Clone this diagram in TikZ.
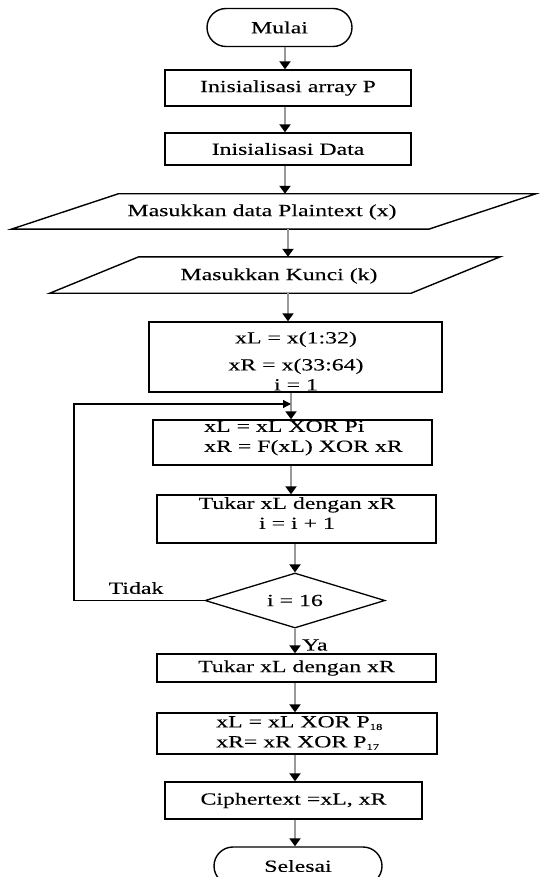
\documentclass[tikz,border=0pt]{standalone}
\usepackage{fontspec}
\setmainfont[FakeStretch=1.4,FakeBold=0.2]{Liberation Serif}
\usetikzlibrary{arrows.meta,shapes.geometric}

\tikzset{
  base/.style={font=\fontsize{17}{20}\selectfont, inner sep=0pt},
  proc/.style={base, draw=black, line width=1.4pt, rectangle},
  term/.style={base, draw=black, line width=1.4pt, rectangle, rounded corners=19pt,
               minimum height=38pt},
  dec/.style={base, draw=black, line width=1.3pt, diamond, aspect=3.2},
  txt/.style={base},
  flow/.style={draw=black!40, line width=2.8pt,
               -{Triangle[black, width=11pt, length=8pt]}},
  back/.style={draw=black, line width=1.2pt,
               -{Triangle[black, width=8pt, length=8pt]}},
}

\newcommand{\tinysub}[1]{\textsubscript{\fontsize{9}{10}\selectfont #1}}

\begin{document}
\begin{tikzpicture}[x=1pt, y=-1pt]
\useasboundingbox (0,0) rectangle (551,877);

% terminals and processes
\node[term, minimum width=145pt] (mulai) at (279.5,27.5) {Mulai};
\node[proc, minimum width=246pt, minimum height=36pt] (p1) at (288,88) {Inisialisasi array P};
\node[proc, minimum width=246pt, minimum height=32pt] (p2) at (288,149) {Inisialisasi Data};

% input parallelograms: frame node plus slanted outline
\node[base, minimum width=417pt, minimum height=35pt] (in1) at (273.5,211.5) {};
\draw[line width=1.4pt]
  ([xshift=-53.5pt]in1.south west) -- ([xshift=-53.5pt]in1.south east)
  -- ([xshift=53.5pt]in1.north east) -- ([xshift=53.5pt]in1.north west) -- cycle;
\node[txt] (in1t) at (262,212) {Masukkan data Plaintext (x)};

\node[base, minimum width=361pt, minimum height=36pt] (in2) at (275,275) {};
\draw[line width=1.4pt]
  ([xshift=-44.5pt]in2.south west) -- ([xshift=-44.5pt]in2.south east)
  -- ([xshift=44.5pt]in2.north east) -- ([xshift=44.5pt]in2.north west) -- cycle;
\node[txt] (in2t) at (279,276) {Masukkan Kunci (k)};

\node[proc, minimum width=293pt, minimum height=70pt] (b3) at (295.5,357) {};
\node[txt, align=center] (b3t) at (296,361) {xL = x(1:32)\\[7pt] xR = x(33:64)\\ i = 1};

\node[proc, minimum width=279pt, minimum height=45pt] (b4) at (292.5,442.5) {};
\node[txt, align=left, anchor=west] (b4t) at (204,438) {xL = xL XOR Pi\\ xR = F(xL) XOR xR};

\node[proc, minimum width=279pt, minimum height=48pt] (b5) at (296.5,519) {};
\node[txt, align=center] (b5t) at (297,513) {Tukar xL dengan xR\\ i = i + 1};

\node[dec, minimum width=180pt, minimum height=55pt] (d) at (295,600.5) {i = 16};

\node[proc, minimum width=279pt, minimum height=28pt] (b6) at (296.5,668) {Tukar xL dengan xR};

\node[proc, minimum width=280pt, minimum height=41pt] (b7) at (297,733.5) {};
\node[txt, align=left, anchor=west] (b7t) at (216,733) {xL = xL XOR P\tinysub{18}\\ xR= xR XOR P\tinysub{17}};

\node[proc, minimum width=257pt, minimum height=37pt] (b8) at (293.5,800.5) {Ciphertext =xL, xR};
\node[term, minimum width=168pt] (selesai) at (298,866) {Selesai};

% vertical guide positions for the connectors
\coordinate (sa) at (285,0);
\coordinate (sb) at (288,0);
\coordinate (sc) at (291,0);
\coordinate (sd) at (295,0);

\draw[flow] (mulai.south -| sa) -- (p1.north -| sa);
\draw[flow] (p1.south -| sa) -- (p2.north -| sa);
\draw[flow] (p2.south -| sa) -- (in1.north -| sa);
\draw[flow] (in1.south -| sb) -- (in2.north -| sb);
\draw[flow] (in2.south -| sb) -- (b3.north -| sb);
\draw[flow] (b3.south -| sc) -- (b4.north -| sc);
\draw[flow] (b4.south -| sc) -- (b5.north -| sc);
\draw[flow] (b5.south -| sd) -- (d.north -| sd);
\draw[flow] (d.south -| sd) -- (b6.north -| sd);
\draw[flow] (b6.south -| sd) -- (b7.north -| sd);
\draw[flow] (b7.south -| sd) -- (b8.north -| sd);
\draw[flow] (b8.south -| sd) -- (selesai.north -| sd);

% loop back from the decision
\coordinate (lp) at (74,404);
\coordinate (jn) at (291,404);
\draw[back] (d.west) -| (lp) -- (jn);

\node[txt] (tidak) at (136,588) {Tidak};
\node[txt, anchor=west] (ya) at (302,645) {Ya};
\end{tikzpicture}
\end{document}
